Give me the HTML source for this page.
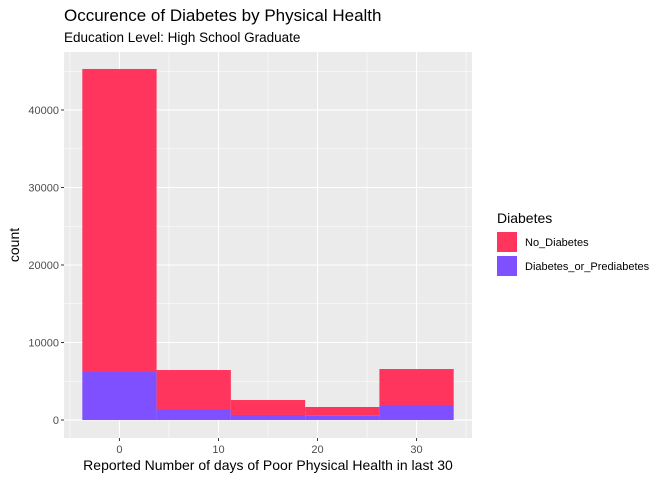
<!DOCTYPE html>
<html><head><meta charset="utf-8"><style>
body{margin:0;background:#fff;font-family:"Liberation Sans",Arial,sans-serif}
</style></head><body>
<svg id="chart" width="672" height="480" xmlns="http://www.w3.org/2000/svg" font-family="Liberation Sans, Arial, sans-serif">
<text x="64" y="21" font-size="17" fill="#000">Occurence of Diabetes by Physical Health</text>
<text x="64" y="42" font-size="13.5" fill="#000">Education Level: High School Graduate</text>
<rect x="64" y="52" width="408" height="386" fill="#EBEBEB"/>
<g id="grid"></g><g id="bars"></g><g id="axes"></g>
<text x="268" y="470" font-size="14" text-anchor="middle" fill="#000">Reported Number of days of Poor Physical Health in last 30</text>
<text transform="translate(19,245) rotate(-90)" font-size="14" text-anchor="middle" fill="#000">count</text>
<g>
<text x="497" y="223" font-size="14" fill="#000">Diabetes</text>
<rect x="497" y="232" width="20" height="20" fill="#FF355E"/>
<text x="525" y="246" font-size="11" fill="#000">No_Diabetes</text>
<rect x="497" y="256" width="20" height="20" fill="#7F50FF"/>
<text x="525" y="270" font-size="11" fill="#000">Diabetes_or_Prediabetes</text>
</g>
</svg>
<script>
const binCenters=[0,7.5,15,22.5,30];
const diabetesCounts=[6320,1420,650,550,1940];
const noDiabetesCounts=[38970,5030,1930,1130,4640];
const xTicks=[0,10,20,30];
const yTicks=[0,10000,20000,30000,40000];
const binWidth=7.5;
const NS="http://www.w3.org/2000/svg";
const X0=64,X1=472,Y0=438,Y1=52,xmin=-5.6,xmax=35.6,ymin=-2320,ymax=47480;
const sx=v=>X0+(v-xmin)/(xmax-xmin)*(X1-X0);
const sy=v=>Y0-(v-ymin)/(ymax-ymin)*(Y0-Y1);
function mk(t,a,p){const e=document.createElementNS(NS,t);for(const k in a)e.setAttribute(k,a[k]);p.appendChild(e);return e;}
const grid=document.getElementById('grid'),bars=document.getElementById('bars'),axes=document.getElementById('axes');
for(let i=0;i<xTicks.length+1;i++){const v=xTicks[0]-5+i*10;const l=mk('line',{x1:sx(v),x2:sx(v),y1:Y1,y2:Y0,stroke:'#fff','stroke-width':0.55},grid);}
for(let i=0;i<yTicks.length;i++){const v=yTicks[i]+5000;const l=mk('line',{x1:X0,x2:X1,y1:sy(v),y2:sy(v),stroke:'#fff','stroke-width':0.55},grid);}
xTicks.forEach(v=>{const l=mk('line',{x1:sx(v),x2:sx(v),y1:Y1,y2:Y0,stroke:'#fff','stroke-width':1.1},grid);
const t=mk('line',{x1:sx(v),x2:sx(v),y1:Y0,y2:Y0+3,stroke:'#333','stroke-width':1},axes);
const tx=mk('text',{x:sx(v),y:Y0+15,'font-size':11,'text-anchor':'middle',fill:'#4D4D4D'},axes);tx.textContent=v;});
yTicks.forEach(v=>{const l=mk('line',{x1:X0,x2:X1,y1:sy(v),y2:sy(v),stroke:'#fff','stroke-width':1.1},grid);
const t=mk('line',{x1:X0-3,x2:X0,y1:sy(v),y2:sy(v),stroke:'#333','stroke-width':1},axes);
const tx=mk('text',{x:X0-5,y:sy(v)+4,'font-size':11,'text-anchor':'end',fill:'#4D4D4D'},axes);tx.textContent=v;});
binCenters.forEach((c,i)=>{const xl=sx(c-binWidth/2),xr=sx(c+binWidth/2);
const d=diabetesCounts[i],n=noDiabetesCounts[i];
const r1=mk('rect',{x:xl,y:sy(d+n),width:xr-xl,height:sy(d)-sy(d+n),fill:'#FF355E'},bars);
const r2=mk('rect',{x:xl,y:sy(d),width:xr-xl,height:sy(0)-sy(d),fill:'#7F50FF'},bars);});
</script>
</body></html>
